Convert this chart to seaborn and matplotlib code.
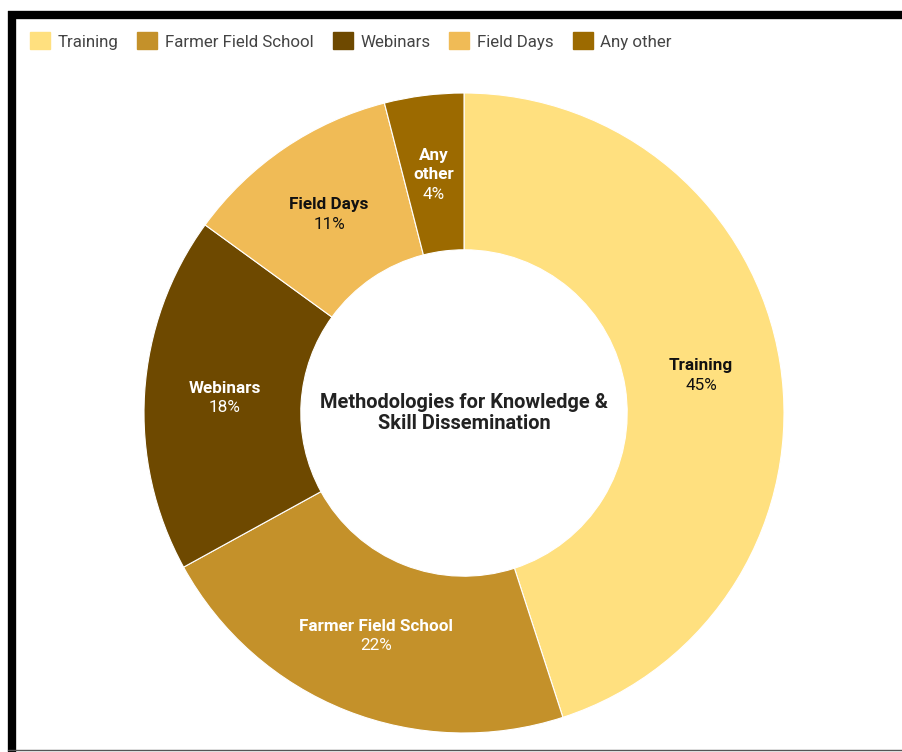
import matplotlib
matplotlib.use("Agg")
import matplotlib.pyplot as plt
import seaborn as sns
import numpy as np
from matplotlib.lines import Line2D
from matplotlib.patches import Patch

# data
methods = ["Training", "Farmer Field School", "Webinars", "Field Days", "Any other"]
shares = [45, 22, 18, 11, 4]
slice_labels = ["Training", "Farmer Field School", "Webinars", "Field Days", "Any\nother"]
colors = ["#FFE07F", "#C4912A", "#6E4900", "#F0BB56", "#9C6A00"]
text_colors = ["#111111", "white", "white", "#111111", "white"]

sns.set_theme(style="white")
plt.rcParams["font.family"] = ["Roboto", "DejaVu Sans"]

fig = plt.figure(figsize=(9.03, 7.52), dpi=100)
W, H = 903, 752
R = 320  # outer radius in px
ax = fig.add_axes([(464 - R) / W, 1 - (413 + R) / H, 2 * R / W, 2 * R / H])

wedges, _ = ax.pie(shares, colors=colors, startangle=90, counterclock=False,
                   radius=1.0, wedgeprops=dict(width=0.49, edgecolor="white", linewidth=0.8))
ax.set_xlim(-1, 1)
ax.set_ylim(-1, 1)
ax.set_aspect("equal")
ax.axis("off")

step = 19.5 / R  # line spacing in data units
total = sum(shares)
cum = 0
for lab, val, tc in zip(slice_labels, shares, text_colors):
    mid = cum + val / 2
    cum += val
    ang = np.deg2rad(90 - 360 * mid / total)
    x, y = 0.75 * np.cos(ang), 0.75 * np.sin(ang)
    lines = lab.split("\n") + [f"{val}%"]
    n = len(lines)
    for i, line in enumerate(lines):
        yy = y - (i - (n - 1) / 2) * step
        bold = i < n - 1
        ax.text(x, yy, line, ha="center", va="center", fontsize=12.3,
                fontweight="bold" if bold else "normal", color=tc)

ax.text(0, 0, "Methodologies for Knowledge &\nSkill Dissemination", ha="center", va="center",
        fontsize=14.4, fontweight="bold", color="#222222", linespacing=1.15)

handles = [Patch(facecolor=c, edgecolor=c) for c in colors]
fig.legend(handles, methods, loc="center left", bbox_to_anchor=(30 / W, 1 - 41 / H),
           ncol=5, frameon=False, fontsize=12.2, handlelength=1.18, handleheight=1.18,
           handletextpad=0.47, columnspacing=1.1, labelcolor="#444444",
           borderaxespad=0, borderpad=0)

# frame
fig.add_artist(Line2D([8 / W, 1], [1 - 15 / H, 1 - 15 / H], color="black", lw=6,
                      transform=fig.transFigure, solid_capstyle="butt"))
fig.add_artist(Line2D([12 / W, 12 / W], [1 - 11 / H, 0], color="black", lw=6,
                      transform=fig.transFigure, solid_capstyle="butt"))
fig.add_artist(Line2D([8 / W, 1], [1 - 750 / H, 1 - 750 / H], color="#555555", lw=1,
                      transform=fig.transFigure))

fig.savefig("out.png", dpi=100, facecolor="white")
